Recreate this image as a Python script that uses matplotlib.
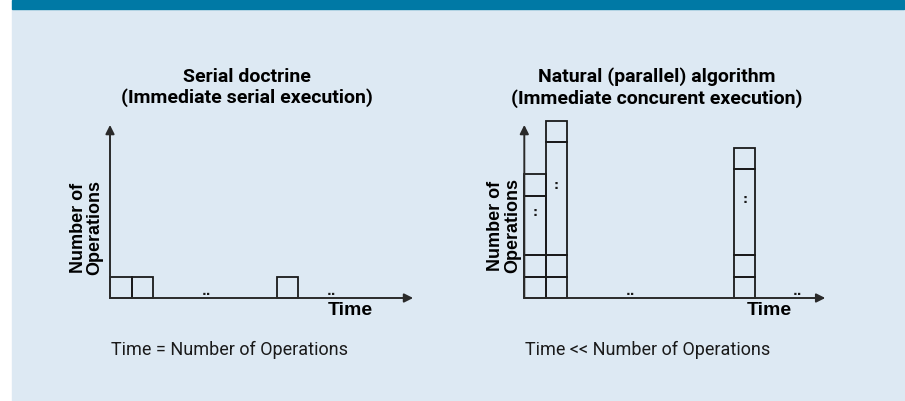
import matplotlib.pyplot as plt
from matplotlib.patches import Rectangle

W, H = 905, 401

# cell stacks: (x position, list of cell heights) in "operation" units
serial_x = [0, 1, 7.75]
serial_cells = [[1], [1], [1]]

parallel_x = [0, 1, 9.75]
parallel_cells = [[1, 1, 2.75, 1], [1, 1, 5.25, 1], [1, 1, 4.0, 1]]

# ellipsis marks on the time axis
serial_gaps = [4.5, 10.3]
parallel_gaps = [4.95, 12.7]

titles = ["Serial doctrine\n(Immediate serial execution)",
          "Natural (parallel) algorithm\n(Immediate concurent execution)"]
captions = ["Time = Number of Operations", "Time << Number of Operations"]

BG = "#dde9f3"
BAR = "#0079a5"
INK = "#1a1a1a"
UNIT = 21.5  # pixels per cell

fig = plt.figure(figsize=(W / 100, H / 100), dpi=100)
fig.patch.set_facecolor("white")
fig.add_artist(Rectangle((12 / W, 0), (W - 13) / W, (H - 9) / H,
                         transform=fig.transFigure, color=BG, zorder=0))
fig.add_artist(Rectangle((12 / W, (H - 9) / H), (W - 13) / W, 9 / H,
                         transform=fig.transFigure, color=BAR, zorder=0))


def panel(ox, xs, cells, gaps, xtip, ylab_xy, time_x):
    ax = fig.add_axes([ox / W, (H - 298) / H, 15 * UNIT / W, 9 * UNIT / H])
    ax.set_xlim(0, 15)
    ax.set_ylim(0, 9)
    ax.axis("off")
    ax.patch.set_alpha(0)
    arrow = dict(arrowstyle="-|>", color="#2a2a2a", lw=1.4, mutation_scale=13,
                 shrinkA=0, shrinkB=0)
    ax.annotate("", xy=(xtip, 0), xytext=(0, 0), arrowprops=arrow,
                annotation_clip=False)
    ax.annotate("", xy=(0, 8.05), xytext=(0, 0), arrowprops=arrow,
                annotation_clip=False)
    for x, stack in zip(xs, cells):
        bottom = 0
        for h in stack:
            ax.bar(x, h, width=1, bottom=bottom, align="edge",
                   facecolor="none", edgecolor=INK, lw=1.3, clip_on=False)
            bottom += h
        if len(stack) > 1:
            mid = stack[0] + stack[1] + stack[2] * 0.5 + 0.6
            ax.text(x + 0.5, mid, ":", ha="center", va="center",
                    fontsize=9, fontweight="bold", color=INK)
    for g in gaps:
        ax.text(g, 0.3, "..", ha="center", va="center", fontsize=9,
                fontweight="bold", color=INK)
    ax.text(ylab_xy[0], ylab_xy[1], "Number of\nOperations", rotation=90,
            ha="center", va="center", fontsize=13, fontweight="bold",
            family="Liberation Sans", linespacing=0.95, color="black")
    ax.text(time_x, -0.6, "Time", ha="center", va="center", fontsize=14,
            fontweight="bold", family="Liberation Sans", color="black")
    return ax


panel(110, serial_x, serial_cells, serial_gaps, 14.1, (-1.07, 3.28), 11.16)
panel(524.3, parallel_x, parallel_cells, parallel_gaps, 14.0, (-0.94, 3.36), 11.4)

for cx, t in zip([246.7, 656.7], titles):
    fig.text(cx / W, 1 - 87.5 / H, t, ha="center", va="center", fontsize=14,
             fontweight="bold", family="Roboto", linespacing=1.2)
for cx, c in zip([229, 648], captions):
    fig.text(cx / W, 1 - 350 / H, c, ha="center", va="center", fontsize=13,
             family="Roboto", color="#1a1a1a")

fig.savefig("out.png", dpi=100)
